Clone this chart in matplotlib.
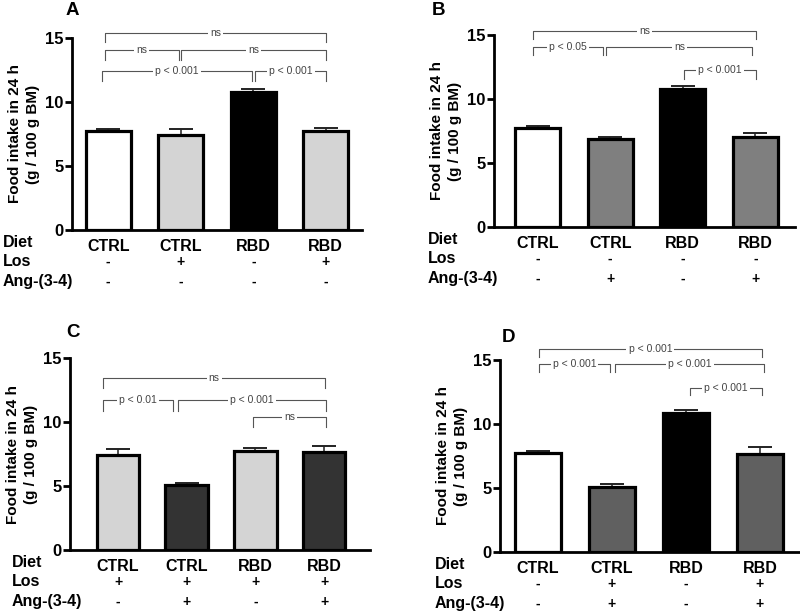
import matplotlib
matplotlib.use("Agg")
import matplotlib.pyplot as plt
import matplotlib.transforms as mtransforms

plt.rcParams['font.family'] = ['Liberation Sans', 'DejaVu Sans']
plt.rcParams['font.weight'] = 'bold'

# data
diet = ["CTRL", "CTRL", "RBD", "RBD"]

los_A = ["-", "+", "-", "+"]
ang_A = ["-", "-", "-", "-"]
mean_A = [7.7, 7.45, 10.8, 7.75]
sem_A = [0.2, 0.45, 0.2, 0.22]
col_A = ["white", "#d4d4d4", "black", "#d4d4d4"]
br_A = [(-0.05, 3.01, 15.4, "ns"), (-0.05, 0.97, 14.05, "ns"), (1.0, 3.01, 14.05, "ns"),
        (-0.08, 1.98, 12.4, "p < 0.001"), (2.03, 3.01, 12.4, "p < 0.001")]

los_B = ["-", "-", "-", "-"]
ang_B = ["-", "+", "-", "+"]
mean_B = [7.75, 6.9, 10.8, 7.05]
sem_B = [0.17, 0.15, 0.2, 0.27]
col_B = ["white", "#7f7f7f", "black", "#7f7f7f"]
br_B = [(-0.06, 3.01, 15.35, "ns"), (-0.06, 0.9, 14.1, "p < 0.05"), (0.95, 2.96, 14.1, "ns"),
        (2.02, 3.01, 12.3, "p < 0.001")]

los_C = ["+", "+", "+", "+"]
ang_C = ["-", "+", "-", "+"]
mean_C = [7.45, 5.05, 7.7, 7.65]
sem_C = [0.45, 0.2, 0.3, 0.5]
col_C = ["#d4d4d4", "#333333", "#d4d4d4", "#333333"]
br_C = [(-0.22, 3.02, 13.45, "ns"), (-0.22, 0.8, 11.7, "p < 0.01"), (0.87, 3.03, 11.7, "p < 0.001"),
        (1.97, 3.03, 10.4, "ns")]

los_D = ["-", "+", "-", "+"]
ang_D = ["-", "+", "-", "+"]
mean_D = [7.7, 5.05, 10.85, 7.65]
sem_D = [0.22, 0.28, 0.25, 0.55]
col_D = ["white", "#606060", "black", "#606060"]
br_D = [(0.01, 3.03, 15.85, "p < 0.001"), (0.01, 0.98, 14.7, "p < 0.001"),
        (1.04, 3.06, 14.7, "p < 0.001"), (2.06, 3.03, 12.85, "p < 0.001")]

fig = plt.figure(figsize=(8, 6.11), dpi=100)


def panel(rect, xlim, letter, letter_xy, label_x, los, ang, means, sems, cols, brackets, drop):
    ax = fig.add_axes(rect)
    x = range(4)
    ax.bar(x, means, width=0.62, color=cols, edgecolor="black", linewidth=2.3, zorder=3)
    ax.errorbar(x, means, yerr=[[0] * 4, sems], fmt="none", ecolor="#222222",
                elinewidth=1.1, capsize=8.5, capthick=1.4, zorder=2)
    ax.set_xlim(*xlim)
    ax.set_ylim(0, 15)
    ax.set_yticks([0, 5, 10, 15])
    ax.set_xticks([])
    for s in ["top", "right"]:
        ax.spines[s].set_visible(False)
    ax.spines["left"].set_linewidth(2)
    ax.spines["bottom"].set_linewidth(2)
    ax.tick_params(axis="y", width=2, length=5, labelsize=12, pad=1)
    ax.set_ylabel("Food intake in 24 h\n(g / 100 g BM)", fontsize=11, fontweight="bold",
                  labelpad=4, linespacing=1.35)

    for x1, x2, h, txt in brackets:
        ax.plot([x1, x1, x2, x2], [h - drop, h, h, h - drop], color="#555555", lw=0.8,
                clip_on=False, zorder=4)
        ax.text((x1 + x2) / 2, h, txt, ha="center", va="center", fontsize=7.5,
                fontweight="normal", color="#444444", zorder=5, clip_on=False,
                bbox=dict(facecolor="white", edgecolor="none", pad=1.5))

    tr = mtransforms.blended_transform_factory(ax.transData, ax.transAxes)
    for i in range(4):
        ax.text(i, -0.085, diet[i], transform=tr, ha="center", va="center", fontsize=11.5)
        ax.text(i, -0.165, los[i], transform=tr, ha="center", va="center", fontsize=10)
        ax.text(i, -0.27, ang[i], transform=tr, ha="center", va="center", fontsize=10)
    tr2 = mtransforms.blended_transform_factory(fig.transFigure, ax.transAxes)
    ax.text(label_x, -0.065, "Diet", transform=tr2, ha="left", va="center", fontsize=11.5)
    ax.text(label_x, -0.165, "Los", transform=tr2, ha="left", va="center", fontsize=11.5)
    ax.text(label_x, -0.27, "Ang-(3-4)", transform=tr2, ha="left", va="center", fontsize=11.5)
    fig.text(letter_xy[0], letter_xy[1], letter, fontsize=13.5, ha="left", va="center")
    return ax


panel([0.09, 0.6236, 0.3625, 0.3142], (-0.5, 3.5), "A", (0.082, 0.983), 0.003,
      los_A, ang_A, mean_A, sem_A, col_A, br_A, 0.75)
panel([0.6175, 0.6285, 0.3765, 0.3142], (-0.6, 3.55), "B", (0.54, 0.983), 0.535,
      los_B, ang_B, mean_B, sem_B, col_B, br_B, 0.7)
panel([0.0875, 0.0998, 0.375, 0.3142], (-0.7, 3.67), "C", (0.083, 0.455), 0.015,
      los_C, ang_C, mean_C, sem_C, col_C, br_C, 0.8)
panel([0.625, 0.0966, 0.375, 0.3142], (-0.51, 3.54), "D", (0.627, 0.448), 0.543,
      los_D, ang_D, mean_D, sem_D, col_D, br_D, 0.6)

fig.savefig("out.png", dpi=100)
